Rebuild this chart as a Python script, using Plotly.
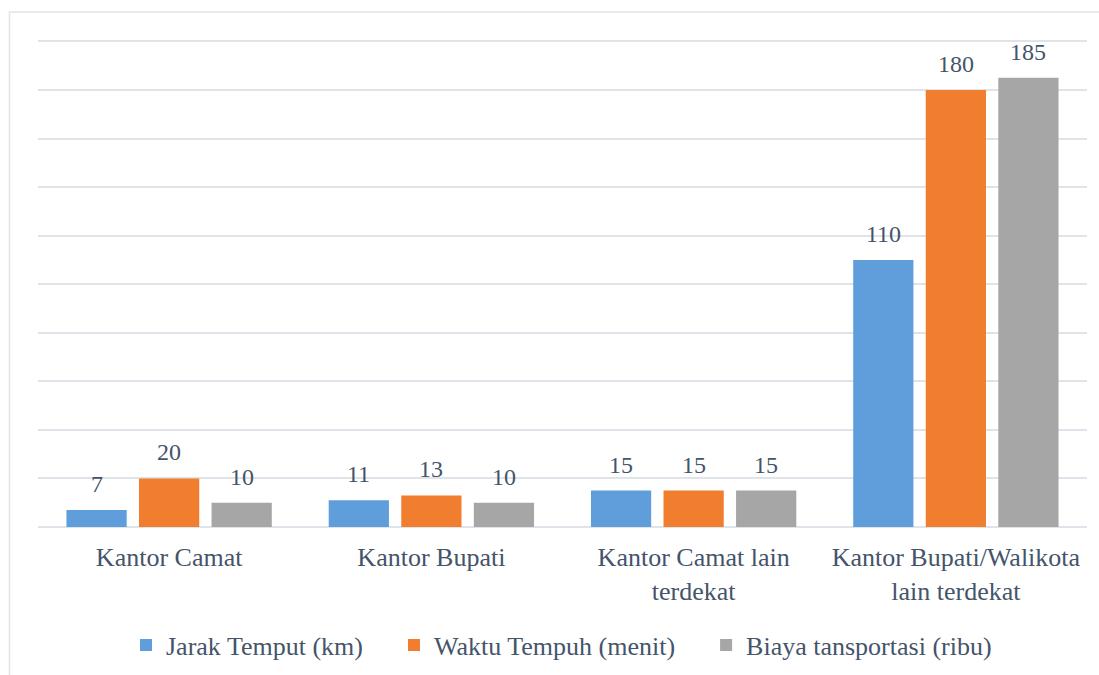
import plotly.graph_objects as go

categories = ["Kantor Camat", "Kantor Bupati", "Kantor Camat lain<br>terdekat",
              "Kantor Bupati/Walikota<br>lain terdekat"]
jarak = [7, 11, 15, 110]
waktu = [20, 13, 15, 180]
biaya = [10, 10, 15, 185]
series_names = ["Jarak Temput (km)", "Waktu Tempuh (menit)", "Biaya tansportasi (ribu)"]
series_values = [jarak, waktu, biaya]
series_colors = ["#5f9edb", "#f07e2e", "#a6a6a6"]

txt = "#44546a"
fnt = "Liberation Serif, Times New Roman, Tinos, DejaVu Serif, serif"
grid = "#dfe3ea"

W, H = 1099, 675
ml, mr, mt, mb = 38, 12, 39, 148
pw, ph = W - ml - mr, H - mt - mb
bargap, bargroupgap = 0.17, 0.17
ymax = 201

fig = go.Figure()
pad = "\u00a0" * 4
for name, vals, col in zip(series_names, series_values, series_colors):
    fig.add_trace(go.Bar(
        x=categories, y=vals, name=name + pad, marker_color=col, marker_line_width=0,
    ))

# data labels as annotations, offset to each bar's slot within the group
ntr = len(series_names)
slot = pw / len(categories) * (1 - bargap) / ntr
annotations = []
for i, vals in enumerate(series_values):
    for c, v in zip(categories, vals):
        annotations.append(dict(
            x=c, y=v, xref="x", yref="y", text=str(v), showarrow=False,
            xshift=(i - (ntr - 1) / 2) * slot, yshift=11, yanchor="bottom",
            font=dict(family=fnt, size=24, color=txt)))

fig.update_layout(
    width=W, height=H,
    margin=dict(l=ml, r=mr, t=mt, b=mb, autoexpand=False),
    paper_bgcolor="white", plot_bgcolor="white",
    barmode="group", bargap=bargap, bargroupgap=bargroupgap,
    font=dict(family=fnt, size=26, color=txt),
    showlegend=True,
    legend=dict(orientation="h", x=0.5 + 12 / pw, xanchor="center", y=(527 - 645) / ph,
                yanchor="middle", font=dict(family=fnt, size=26, color=txt),
                itemwidth=30, tracegroupgap=0),
    xaxis=dict(showgrid=False, showline=False, ticks="", automargin=False,
               ticklabelstandoff=12,
               tickfont=dict(family=fnt, size=26, color=txt)),
    yaxis=dict(range=[0, ymax], dtick=20, showgrid=True, gridcolor=grid, gridwidth=1.5,
               showticklabels=False, zeroline=True, zerolinecolor=grid, zerolinewidth=1.5,
               showline=False, automargin=False),
    annotations=annotations,
    shapes=[dict(type="rect", xref="paper", yref="paper",
                 x0=(9.5 - ml) / pw, x1=1.05, y0=-0.5, y1=(527 - 12) / ph,
                 line=dict(color=grid, width=1.5), fillcolor="rgba(0,0,0,0)", layer="below")],
)

fig.write_html("out.html", config={"displayModeBar": False},
               post_script="document.body.style.margin='0';document.body.style.padding='0';")
